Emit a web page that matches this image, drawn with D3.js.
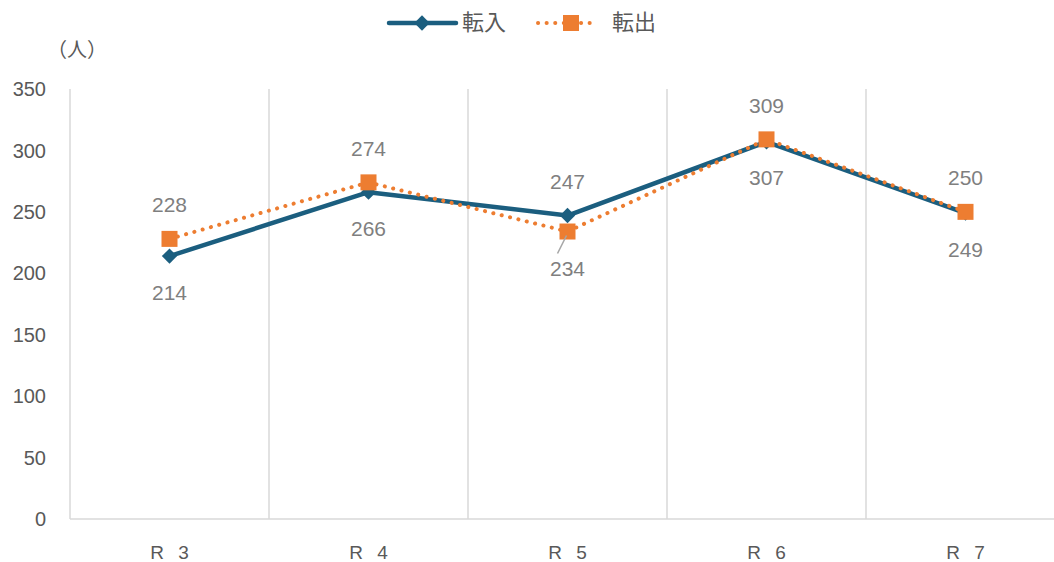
<!DOCTYPE html>
<html>
<head>
<meta charset="utf-8">
<script src="https://cdn.jsdelivr.net/npm/d3@7"></script>
<style>
  body { margin: 0; background: #fff; }
  text { font-family: "Liberation Sans", Arial, "Noto Sans CJK JP", sans-serif; }
  .jp { font-family: "Noto Sans CJK JP", sans-serif; }
</style>
</head>
<body>
<svg width="1054" height="562"></svg>
<script>
// data
const years = ['R\u2002\u20053', 'R\u2002\u20054', 'R\u2002\u20055', 'R\u2002\u20056', 'R\u2002\u20057'];
const tennyu = [214, 266, 247, 307, 249];   // 転入
const tenshutsu = [228, 274, 234, 309, 250]; // 転出
const yTicks = [0, 50, 100, 150, 200, 250, 300, 350];

const blue = '#1b5e7f';
const orange = '#ed7d31';
const gray = '#595959';
const labelGray = '#7f7f7f';

const svg = d3.select('svg');

const x = d3.scaleBand().domain(years).range([70, 1065]);
const y = d3.scaleLinear().domain([0, 350]).range([519, 89]);
const cx = d => x(d) + x.bandwidth() / 2;

// vertical grid lines at category boundaries
svg.selectAll('.grid')
  .data(years)
  .enter().append('line')
  .attr('x1', d => x(d) + x.bandwidth())
  .attr('x2', d => x(d) + x.bandwidth())
  .attr('y1', y(350)).attr('y2', y(0))
  .attr('stroke', '#d9d9d9').attr('stroke-width', 1.5);

// left + bottom axis lines
svg.append('line').attr('x1', 70).attr('x2', 70).attr('y1', y(350)).attr('y2', y(0))
  .attr('stroke', '#d9d9d9').attr('stroke-width', 1.5);
svg.append('line').attr('x1', 70).attr('x2', 1065).attr('y1', y(0)).attr('y2', y(0))
  .attr('stroke', '#d9d9d9').attr('stroke-width', 1.5);

// y tick labels
svg.selectAll('.ytick')
  .data(yTicks)
  .enter().append('text')
  .attr('x', 46).attr('y', d => y(d))
  .attr('dy', '0.36em')
  .attr('text-anchor', 'end')
  .attr('font-size', 20).attr('fill', gray)
  .text(d => d);

// x labels
svg.selectAll('.xtick')
  .data(years)
  .enter().append('text')
  .attr('x', d => cx(d)).attr('y', 552)
  .attr('dy', '0.36em')
  .attr('text-anchor', 'middle')
  .attr('font-size', 19).attr('fill', gray)
  .text(d => d);

// unit label
svg.append('text').attr('class', 'jp').attr('x', 77).attr('y', 50).attr('dy', '0.36em')
  .attr('text-anchor', 'middle').attr('font-size', 20).attr('fill', gray)
  .text('（人）');

const line = d3.line().x(d => cx(d[0])).y(d => y(d[1]));
const ptsIn = years.map((d, i) => [d, tennyu[i]]);
const ptsOut = years.map((d, i) => [d, tenshutsu[i]]);

// 転入 line
svg.append('path').datum(ptsIn)
  .attr('d', line).attr('fill', 'none')
  .attr('stroke', blue).attr('stroke-width', 4.5).attr('stroke-linejoin', 'round');

svg.selectAll('.dia')
  .data(ptsIn)
  .enter().append('path')
  .attr('d', d3.symbol().type(d3.symbolDiamond2).size(150))
  .attr('transform', d => `translate(${cx(d[0])},${y(d[1])})`)
  .attr('fill', blue);

// 転出 line (dotted)
svg.append('path').datum(ptsOut)
  .attr('d', line).attr('fill', 'none')
  .attr('stroke', orange).attr('stroke-width', 4).attr('stroke-linecap', 'round')
  .attr('stroke-dasharray', '0.1 8.5');

svg.selectAll('.sq')
  .data(ptsOut)
  .enter().append('rect')
  .attr('x', d => cx(d[0]) - 8).attr('y', d => y(d[1]) - 8)
  .attr('width', 16).attr('height', 16)
  .attr('fill', orange);

// data labels: the larger value above, the smaller below
const labels = [];
years.forEach((yr, i) => {
  const a = tennyu[i], b = tenshutsu[i];
  labels.push({ yr, v: Math.max(a, b), dy: -34 });
  labels.push({ yr, v: Math.min(a, b), dy: 36 });
});

// leader line for R5 lower label
svg.append('line')
  .attr('x1', cx(years[2]) - 1).attr('y1', y(tenshutsu[2]) + 4)
  .attr('x2', cx(years[2]) - 10).attr('y2', y(tenshutsu[2]) + 22)
  .attr('stroke', '#a6a6a6').attr('stroke-width', 1.5);

svg.selectAll('.dl')
  .data(labels)
  .enter().append('text')
  .attr('x', d => cx(d.yr))
  .attr('y', d => y(d.v) + d.dy + (d.yr === years[2] && d.dy > 0 ? 1 : 0))
  .attr('dy', '0.36em')
  .attr('text-anchor', 'middle')
  .attr('font-size', 21).attr('fill', labelGray)
  .text(d => d.v);

// legend
const lg = svg.append('g');
lg.append('line').attr('x1', 389).attr('x2', 456).attr('y1', 23).attr('y2', 23)
  .attr('stroke', blue).attr('stroke-width', 4.5).attr('stroke-linecap', 'round');
lg.append('path').attr('d', d3.symbol().type(d3.symbolDiamond2).size(150))
  .attr('transform', 'translate(422,23)').attr('fill', blue);
lg.append('text').attr('class', 'jp').attr('x', 462).attr('y', 22).attr('dy', '0.36em')
  .attr('font-size', 22).attr('fill', gray).text('転入');

lg.append('line').attr('x1', 538).attr('x2', 598).attr('y1', 23).attr('y2', 23)
  .attr('stroke', orange).attr('stroke-width', 4).attr('stroke-linecap', 'round')
  .attr('stroke-dasharray', '0.1 8.5');
lg.append('rect').attr('x', 563).attr('y', 15).attr('width', 16).attr('height', 16)
  .attr('fill', orange);
lg.append('text').attr('class', 'jp').attr('x', 612).attr('y', 22).attr('dy', '0.36em')
  .attr('font-size', 22).attr('fill', gray).text('転出');
</script>
</body>
</html>
